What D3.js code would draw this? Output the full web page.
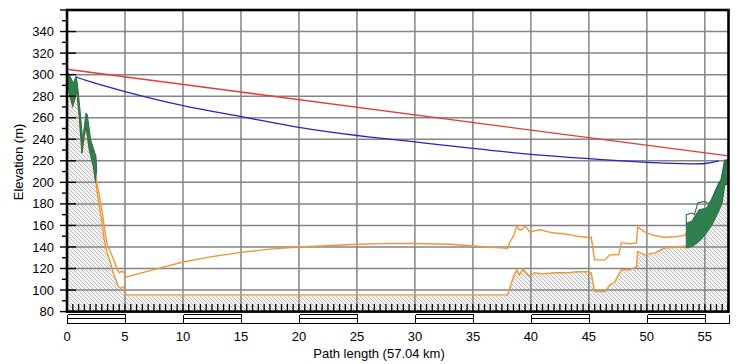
<!DOCTYPE html>
<html>
<head>
<meta charset="utf-8">
<script src="https://d3js.org/d3.v7.min.js"></script>
<style>
  body { margin: 0; background: #fff; }
  svg { display: block; font-family: "Liberation Sans", Arial, sans-serif; }
  .tick-label { font-size: 13px; fill: #000; }
  .axis-title { font-size: 13px; fill: #000; }
</style>
</head>
<body>
<svg width="742" height="364"></svg>
<script>
// path profile data, [km, elevation m]
var terrain = [[0,295],[0.2,283],[0.49,270.5],[0.69,278.3],[0.83,286],[1.06,261],[1.29,227.2],[1.47,242.6],
  [1.64,252],[1.92,230.3],[2.27,214.8],[2.5,199.3],[2.7,183.8],[2.99,165.2],[3.19,148.2],[3.42,135.8],
  [3.77,125],[4.0,115.7],[4.22,109.5],[4.42,103.2],[4.63,101.7],[4.86,102.7],[5.0,100.2],[5.06,96.2],
  [5.2,95.5],[38.0,95.5],[38.5,112.5],[38.8,118.8],[39.0,114],[39.3,119.4],[39.6,116],[39.9,112.5],
  [40.3,116],[41,115],[42,116],[43,116],[44,117],[44.8,117],[45.2,116],[45.5,98.6],[46.4,98.6],
  [46.8,104.8],[47.2,107],[47.8,118.8],[48.5,118.8],[49.1,121.5],[49.2,135.8],[49.8,132.7],[50.7,134.5],
  [51.5,139],[52.8,140],[53.4,141],[54.0,143],[54.6,148],[55,154],[55.6,163.6],[56.1,174.5],
  [56.5,183.8],[56.7,199.3],[57.04,200.8]];

var clutter = [[2.45,206],[2.79,188],[3.07,170],[3.3,152],[3.5,141],[3.8,134],[4.1,126],[4.34,119],
  [4.51,116],[4.71,117.5],[4.94,116],[5.06,112],[7.5,119],[10,126],[12.5,131],[15,135],[17.5,138],
  [20,140],[25,142.5],[28,143.3],[30,143.2],[33,142.5],[35.6,140.4],[38.0,138.9],[38.2,145],[38.5,150],
  [38.8,159.6],[39.0,156],[39.2,156],[39.5,159.6],[39.9,154],[40.3,155],[40.8,156],[41.5,154],[42,153],
  [43,152],[43.5,151],[44,150],[44.8,149],[45.2,149],[45.5,128],[46.4,128],[46.8,132.7],[47.6,133],
  [47.8,144],[48.5,143],[49.1,143.5],[49.2,158.5],[49.8,154],[50.5,151],[51.5,149],[52.5,149.5],
  [53.3,151],[53.7,158],[54.3,163.6],[54.8,170],[55.4,174.5],[55.8,182],[56.3,191.5],[56.7,199.6],
  [57.04,200.8]];

var greenLeftTop = [[0,303],[0.26,298.4],[0.55,292],[0.78,298.4],[0.89,292],[1.12,267.5],[1.35,239.6],
  [1.64,264.4],[1.75,262.8],[2.04,239.6],[2.5,224],[2.56,211.7],[2.45,200]];
var greenLeftBottom = [[0,295],[0.2,283],[0.49,270.5],[0.69,278.3],[0.83,286],[1.06,261],[1.29,227.2],
  [1.47,242.6],[1.64,252],[1.92,230.3],[2.27,214.8],[2.45,201]];

var greenRightTop = [[53.4,162],[53.9,164],[54.1,168],[54.5,174.5],[55.1,176],[55.4,180],[55.95,193],
  [56.4,202.4],[56.7,221],[57.04,219.4]];
var greenRightBottom = [[53.4,139],[54.0,141],[54.6,146],[55,151],[55.6,160],[56.1,171],
  [56.5,181],[56.7,197],[57.04,199]];
var greenRightOutline = [[53.4,162],[53.4,170],[53.9,171.5],[54.1,170],[54.4,181],[55,182.3],
  [55.3,180],[55.6,184],[56.2,199.3],[56.4,202.4],[56.75,219.4],[56.95,221.6],[57.04,221]];

var losRed = [[0,305],[57.04,224.5]];
var losBlue = [[0.78,297.8],[2,293.4],[5,284.2],[10,271.2],[15,261],[20,251],[25,243.5],[30,237.5],
  [35,231.5],[40,226],[45,222],[50,218.5],[53,217.3],[55,217.5],[56.2,220]];

var xTicks = [0,5,10,15,20,25,30,35,40,45,50,55];
var yTicks = [80,100,120,140,160,180,200,220,240,260,280,300,320,340];
var pathLength = 57.04;

var svg = d3.select("svg");

var x = d3.scaleLinear().domain([0, pathLength]).range([67, 728.5]);
var y = d3.scaleLinear().domain([80, 360]).range([311.6, 10]);

var line = d3.line()
  .x(function(d) { return x(d[0]); })
  .y(function(d) { return y(d[1]); });

function crisp(v) { return Math.round(v) + 0.5; }

// hatch pattern
var defs = svg.append("defs");
var pat = defs.append("pattern")
  .attr("id", "hatch")
  .attr("patternUnits", "userSpaceOnUse")
  .attr("width", 4)
  .attr("height", 4);
pat.append("rect").attr("width", 4).attr("height", 4).attr("fill", "#f2f2f2");
pat.append("path")
  .attr("d", "M-1,-1 L5,5 M-1,3 L1,5 M3,-1 L5,1")
  .attr("stroke", "#bcbcbc")
  .attr("stroke-width", 0.9);

var area = d3.area()
  .x(function(d) { return x(d[0]); })
  .y0(y(80))
  .y1(function(d) { return y(d[1]); });

svg.append("path")
  .datum(terrain)
  .attr("d", area)
  .attr("fill", "url(#hatch)");

// grid
svg.append("g").selectAll("line")
  .data(xTicks.filter(function(d) { return d > 0; }))
  .enter().append("line")
    .attr("x1", function(d) { return x(d); })
    .attr("x2", function(d) { return x(d); })
    .attr("y1", y(360))
    .attr("y2", y(80))
    .attr("stroke", "#858585")
    .attr("stroke-width", 1.5);

svg.append("g").selectAll("line")
  .data(yTicks.filter(function(d) { return d > 80; }))
  .enter().append("line")
    .attr("x1", x(0))
    .attr("x2", x(pathLength))
    .attr("y1", function(d) { return y(d); })
    .attr("y2", function(d) { return y(d); })
    .attr("stroke", "#858585")
    .attr("stroke-width", 1.5);

// inner x ticks every 0.5 km
svg.append("g").selectAll("line")
  .data(d3.range(1, 115).map(function(i) { return i / 2; }))
  .enter().append("line")
    .attr("x1", function(d) { return x(d); })
    .attr("x2", function(d) { return x(d); })
    .attr("y1", y(80) - 7.5)
    .attr("y2", y(80))
    .attr("stroke", "#000")
    .attr("stroke-width", 1.3);

// orange profile lines
svg.append("path").datum(terrain)
  .attr("d", line).attr("fill", "none")
  .attr("stroke", "#f0963a").attr("stroke-width", 1.4);
svg.append("path").datum(clutter)
  .attr("d", line).attr("fill", "none")
  .attr("stroke", "#f0963a").attr("stroke-width", 1.4);

// vegetation
svg.append("path")
  .datum(greenLeftTop.concat(greenLeftBottom.slice().reverse()))
  .attr("d", function(d) { return line(d) + "Z"; })
  .attr("fill", "#2f7f4f")
  .attr("stroke", "#2b6f45")
  .attr("stroke-width", 1);
svg.append("path")
  .datum(greenRightTop.concat(greenRightBottom.slice().reverse()))
  .attr("d", function(d) { return line(d) + "Z"; })
  .attr("fill", "#2f7f4f")
  .attr("stroke", "#2b6f45")
  .attr("stroke-width", 1);
svg.append("path").datum(greenRightOutline)
  .attr("d", line).attr("fill", "none")
  .attr("stroke", "#2b6f45").attr("stroke-width", 1.1);

// lines of sight
svg.append("path").datum(losRed)
  .attr("d", line).attr("fill", "none")
  .attr("stroke", "#e8383a").attr("stroke-width", 1.3);
svg.append("path").datum(losBlue)
  .attr("d", d3.line()
    .x(function(d) { return x(d[0]); })
    .y(function(d) { return y(d[1]); })
    .curve(d3.curveNatural))
  .attr("fill", "none")
  .attr("stroke", "#2424c8").attr("stroke-width", 1.3);

// frame
svg.append("rect")
  .attr("x", x(0))
  .attr("y", y(360))
  .attr("width", x(pathLength) - x(0))
  .attr("height", y(80) - y(360))
  .attr("fill", "none")
  .attr("stroke", "#000")
  .attr("stroke-width", 2.6);

// y ticks
svg.append("g").selectAll("line")
  .data(d3.range(80, 361, 10))
  .enter().append("line")
    .attr("x1", function(d) { return d % 20 === 0 ? 60 : 62; })
    .attr("x2", function(d) { return d % 20 === 0 ? 76 : x(0); })
    .attr("y1", function(d) { return y(d); })
    .attr("y2", function(d) { return y(d); })
    .attr("stroke", "#000")
    .attr("stroke-width", 1.4);

svg.append("g").selectAll("text")
  .data(yTicks)
  .enter().append("text")
    .attr("class", "tick-label")
    .attr("x", 54)
    .attr("y", function(d) { return y(d) + 4.6; })
    .attr("text-anchor", "end")
    .text(function(d) { return d; });

// scale bar under the axis
var segs = d3.range(0, pathLength, 5);
var barTop = 314.5, barMid = 318.5, barBot = 323.5;
svg.append("g").selectAll("path")
  .data(segs.filter(function(d, i) { return i % 2 === 0; }))
  .enter().append("path")
    .attr("d", function(d) {
      var x0 = crisp(x(d)), x1 = crisp(x(Math.min(d + 5, pathLength)));
      return "M" + x0 + "," + barTop + "H" + x1 + "M" + x0 + "," + barMid + "H" + x1;
    })
    .attr("stroke", "#000")
    .attr("stroke-width", 1)
    .attr("shape-rendering", "crispEdges");
svg.append("line")
  .attr("x1", crisp(x(0))).attr("x2", crisp(x(pathLength)))
  .attr("y1", barBot).attr("y2", barBot)
  .attr("stroke", "#000").attr("stroke-width", 1)
  .attr("shape-rendering", "crispEdges");
svg.append("g").selectAll("line")
  .data(segs.concat([pathLength]))
  .enter().append("line")
    .attr("x1", function(d) { return crisp(x(d)); })
    .attr("x2", function(d) { return crisp(x(d)); })
    .attr("y1", barTop)
    .attr("y2", barBot)
    .attr("stroke", "#000")
    .attr("stroke-width", 1)
    .attr("shape-rendering", "crispEdges");

svg.append("g").selectAll("text")
  .data(xTicks)
  .enter().append("text")
    .attr("class", "tick-label")
    .attr("x", function(d) { return x(d); })
    .attr("y", 340.5)
    .attr("text-anchor", "middle")
    .text(function(d) { return d; });

svg.append("text")
  .attr("class", "axis-title")
  .attr("x", 379)
  .attr("y", 357.5)
  .attr("text-anchor", "middle")
  .text("Path length (57.04 km)");

svg.append("text")
  .attr("class", "axis-title")
  .attr("transform", "translate(23,162) rotate(-90)")
  .attr("text-anchor", "middle")
  .text("Elevation (m)");
</script>
</body>
</html>
